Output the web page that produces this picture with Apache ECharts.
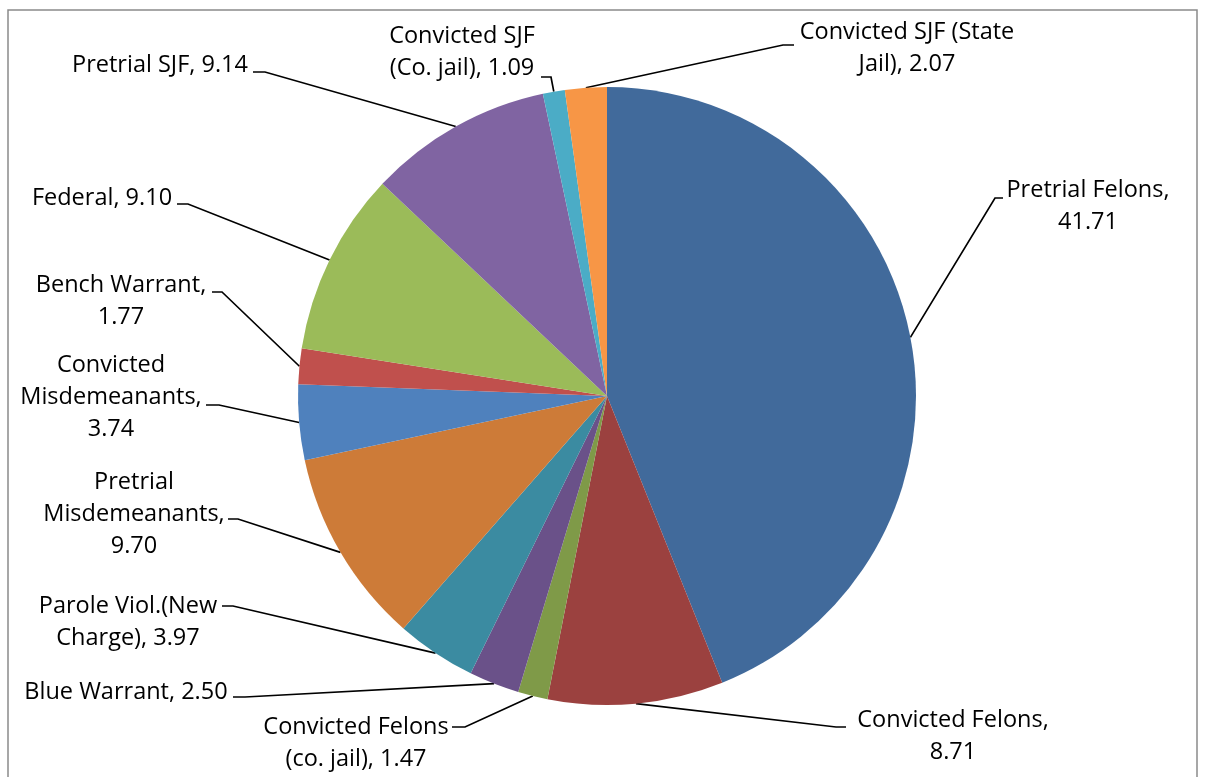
<!DOCTYPE html>
<html>
<head>
<meta charset="utf-8">
<script src="https://cdn.jsdelivr.net/npm/echarts@6/dist/echarts.min.js"></script>
<style>
html,body{margin:0;padding:0;background:#fff;}
#chart{width:1207px;height:777px;}
</style>
</head>
<body>
<div id="chart"></div>
<script>
// ---- data ----
const categories = [
  "Pretrial Felons", "Convicted Felons", "Convicted Felons (co. jail)", "Blue Warrant",
  "Parole Viol.(New Charge)", "Pretrial Misdemeanants", "Convicted Misdemeanants",
  "Bench Warrant", "Federal", "Pretrial SJF", "Convicted SJF (Co. jail)", "Convicted SJF (State Jail)"
];
const values = [41.71, 8.71, 1.47, 2.50, 3.97, 9.70, 3.74, 1.77, 9.10, 9.14, 1.09, 2.07];

// ---- styling / layout (not data) ----
const colors = ["#416A9B", "#9B413F", "#7F9A48", "#6A5189", "#3B8BA1", "#CD7B38",
                "#4F81BD", "#C0504D", "#9BBB59", "#8064A2", "#4BACC6", "#F79646"];
// wrapped label names and whether the value goes on its own line
const labelNames = [
  "Pretrial Felons", "Convicted Felons", "Convicted Felons\n(co. jail)", "Blue Warrant",
  "Parole Viol.(New\nCharge)", "Pretrial\nMisdemeanants", "Convicted\nMisdemeanants",
  "Bench Warrant", "Federal", "Pretrial SJF", "Convicted SJF\n(Co. jail)", "Convicted SJF (State\nJail)"
];
const valueOnNewLine = [true, true, false, false, false, true, true, true, false, false, false, false];
// label block centre
const labelCenters = [[1088,206],[953,736],[356,743],[126,692],[128,622],[134,514],
                      [111,397],[121,301],[102,198],[160,65],[462,52],[907,48]];
// leader elbow and end
const labelElbows = [[995,198],[836,727],[465,727],[245,697],[233,606],[238,519],
                     [219,405],[222,292],[188,204],[265,72],[551,77],[783,45]];
const labelEnds   = [[1003,198],[846,727],[452,727],[233,697],[222,606],[228,519],
                     [206,405],[212,292],[177,204],[253,72],[541,77],[794,45]];

const CX = 607, CY = 396, R = 309;
const total = values.reduce((a, b) => a + b, 0);
function edgePoint(i) {
  let before = 0;
  for (let k = 0; k < i; k++) before += values[k];
  const mid = (before + values[i] / 2) / total * 2 * Math.PI;
  return [CX + R * Math.sin(mid), CY - R * Math.cos(mid)];
}

const chart = echarts.init(document.getElementById('chart'));
chart.setOption({
  animation: false,
  color: colors,
  graphic: [{
    type: 'rect',
    shape: { x: 8, y: 10, width: 1189, height: 820 },
    style: { fill: 'none', stroke: '#8a8a8a', lineWidth: 1.5 },
    silent: true
  }],
  series: [{
    type: 'pie',
    center: [CX, CY],
    radius: R,
    startAngle: 90,
    clockwise: true,
    avoidLabelOverlap: false,
    data: categories.map((c, i) => ({ name: c, value: values[i] })),
    itemStyle: { borderWidth: 0 },
    label: {
      show: true,
      position: 'outside',
      color: '#000',
      fontFamily: '"Open Sans", "Noto Sans", sans-serif',
      fontSize: 23.5,
      lineHeight: 32,
      align: 'center',
      formatter: function (p) {
        const i = p.dataIndex;
        return labelNames[i] + ',' + (valueOnNewLine[i] ? '\n' : ' ') + values[i].toFixed(2);
      }
    },
    labelLine: {
      show: true, length: 10, length2: 10, smooth: false,
      lineStyle: { color: '#000', width: 1.7 }
    },
    labelLayout: function (p) {
      const i = p.dataIndex;
      return {
        x: labelCenters[i][0],
        y: labelCenters[i][1],
        align: 'center',
        verticalAlign: 'middle',
        labelLinePoints: [edgePoint(i), labelElbows[i], labelEnds[i]]
      };
    }
  }]
});
</script>
</body>
</html>
